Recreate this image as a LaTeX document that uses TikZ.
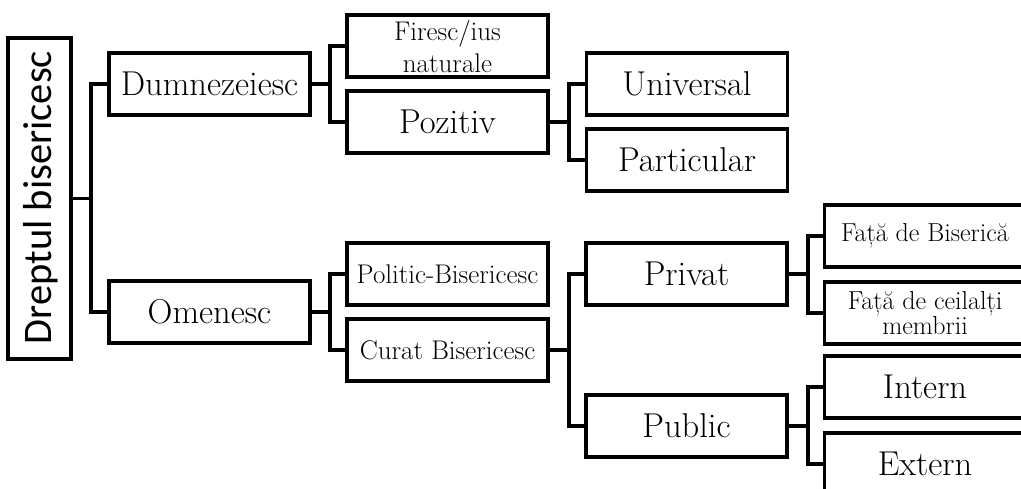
\documentclass[tikz,border=0pt]{standalone}
\usepackage{fontspec}
\newfontfamily\rootfont{Carlito}
\usetikzlibrary{positioning}
\tikzset{box/.style={draw, line width=3.5pt, rectangle, inner sep=0pt, minimum width=201pt, minimum height=62pt, align=center, font=\fontsize{34.5}{38}\selectfont}}
\tikzset{smallbox/.style={box, font=\fontsize{27}{32}\selectfont}}
\tikzset{link/.style={line width=3.5pt}}

\begin{document}
\begin{tikzpicture}[x=1pt, y=-1pt]
\useasboundingbox (0,0) rectangle (1021,489);
\clip (0,0) rectangle (1021,489);

\node[draw, line width=3.5pt, inner sep=0pt, minimum width=63pt, minimum height=321pt] (root) at (39.5,198.5) {};
\node[rotate=90, font=\rootfont\fontsize{40.5}{48}\selectfont] (roott) at (40.5,197.5) {Dreptul bisericesc};

\node[box] (dumn) at (209.5,84) {Dumnezeiesc};
\node[box] (omen) at (209.5,312) {Omenesc};

\node[smallbox, font=\fontsize{27}{32}\selectfont] (fir) at (447.5,46) {Firesc/ius\\naturale};
\node[box] (poz) at (447.5,122) {Pozitiv};
\node[smallbox] (pol) at (447.5,274) {Politic-Bisericesc};
\node[smallbox] (cur) at (447.5,350) {Curat Bisericesc};

\node[box] (univ) at (687,84) {Universal};
\node[box] (part) at (687,160) {Particular};
\node[box] (priv) at (686.5,274) {Privat};
\node[box] (publ) at (686.5,426) {Public};

\node[smallbox, font=\fontsize{26}{23}\selectfont] (fdb) at (925,236) {Față de Biserică};
\node[smallbox, font=\fontsize{26}{23}\selectfont] (fdc) at (925,313) {Față de ceilalți\\membrii};
\node[box] (intern) at (925,387) {Intern};
\node[box] (extern) at (925,464) {Extern};

% ramuri
\draw[link] (root.east) -- ++(18,0) |- (dumn.west);
\draw[link] (root.east) -- ++(18,0) |- (omen.west);
\draw[link] (dumn.east) -- ++(18,0) |- (fir.west);
\draw[link] (dumn.east) -- ++(18,0) |- (poz.west);
\draw[link] (omen.east) -- ++(18,0) |- (pol.west);
\draw[link] (omen.east) -- ++(18,0) |- (cur.west);
\draw[link] (poz.east) -- ++(19,0) |- (univ.west);
\draw[link] (poz.east) -- ++(19,0) |- (part.west);
\draw[link] (cur.east) -- ++(19,0) |- (priv.west);
\draw[link] (cur.east) -- ++(19,0) |- (publ.west);
\draw[link] (priv.east) -- ++(19,0) |- (fdb.west);
\draw[link] (priv.east) -- ++(19,0) |- (fdc.west);
\draw[link] (publ.east) -- ++(19,0) |- (intern.west);
\draw[link] (publ.east) -- ++(19,0) |- (extern.west);

\end{tikzpicture}
\end{document}
